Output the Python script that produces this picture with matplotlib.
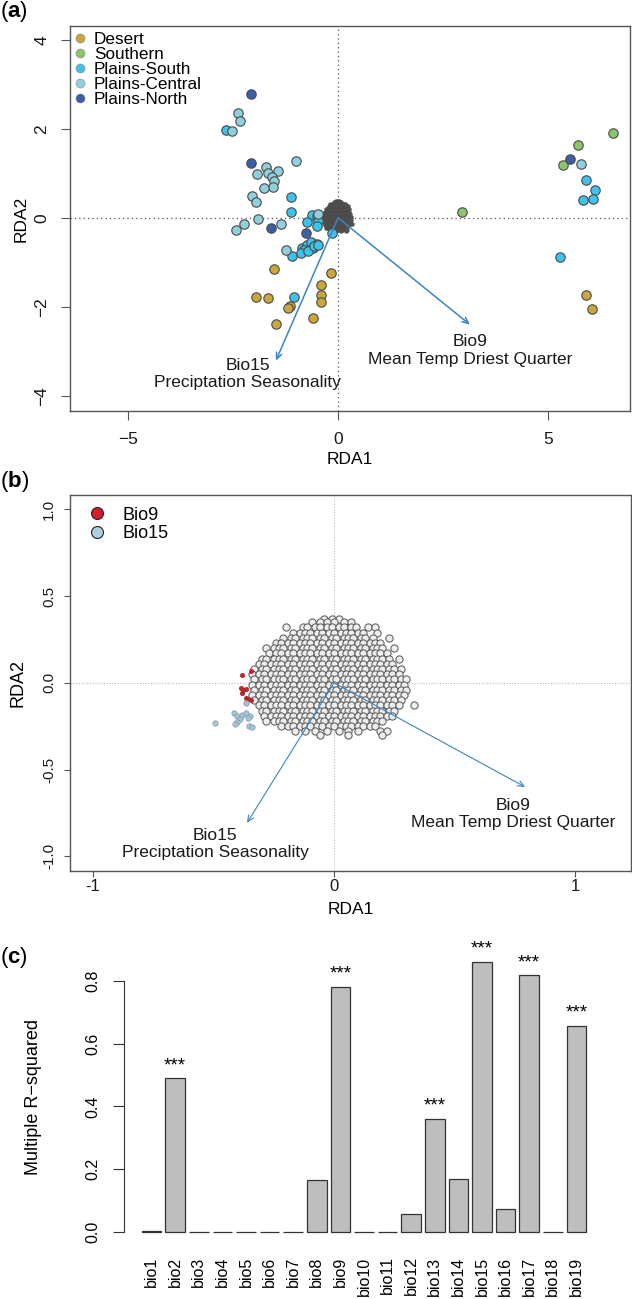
import matplotlib.pyplot as plt
from matplotlib.lines import Line2D

plt.rcParams['font.family'] = ['Liberation Sans', 'DejaVu Sans']
plt.rcParams['mathtext.fontset'] = 'custom'
plt.rcParams['mathtext.rm'] = 'Liberation Sans'
plt.rcParams['mathtext.bf'] = 'Liberation Sans:bold'

# ---- panel (a): site scores on RDA1/RDA2 ----
desert_x = [-1.52, -1.95, -1.66, -1.14, -1.20, -1.48, -0.17, -0.40, -0.40, -0.40, -0.59, 5.90, 6.04]
desert_y = [-1.15, -1.77, -1.80, -1.98, -2.03, -2.39, -1.24, -1.50, -1.74, -1.88, -2.26, -1.74, -2.04]
southern_x = [6.55, 5.71, 5.36, 2.96]
southern_y = [1.90, 1.63, 1.18, 0.13]
psouth_x = [-2.67, -1.12, -1.12, -0.61, -0.51, -0.47, -0.75, -0.49, -0.15, -1.10, -0.86, -0.75, -0.65,
            -0.51, -0.60, -0.81, -0.89, -0.71, -0.57, -0.47, -1.05, 5.91, 6.11, 5.82, 6.08, 5.29]
psouth_y = [1.97, 0.46, 0.13, 0.07, 0.04, -0.08, -0.10, -0.18, -0.34, -0.85, -0.68, -0.61, -0.55,
            -0.58, -0.67, -0.72, -0.78, -0.74, -0.64, -0.61, -1.78, 0.86, 0.63, 0.39, 0.42, -0.88]
pcentral_x = [-2.39, -2.33, -2.53, -1.01, -1.72, -1.92, -1.66, -1.42, -1.58, -1.52, -1.55, -1.76,
              -2.04, -1.96, -1.90, -2.25, -2.43, -1.35, -1.24, -0.48, 5.79]
pcentral_y = [2.35, 2.18, 1.96, 1.27, 1.15, 0.98, 1.00, 1.06, 0.91, 0.82, 0.69, 0.66,
              0.48, 0.35, -0.02, -0.13, -0.27, -0.13, -0.72, 0.09, 1.22]
pnorth_x = [-2.07, -2.07, -1.60, -0.77, 5.52]
pnorth_y = [2.78, 1.24, -0.23, -0.33, 1.32]

group_names = ['Desert', 'Southern', 'Plains-South', 'Plains-Central', 'Plains-North']
group_colors = ['#c9a73a', '#8cc66a', '#3cc3ec', '#8fd0dc', '#3b5ea8']

# biplot arrows (tips)
arrow_names = ['Bio15\nPreciptation Seasonality', 'Bio9\nMean Temp Driest Quarter']
arrow_a_x = [-1.48, 3.14]
arrow_a_y = [-3.21, -2.40]
arrow_b_x = [-0.361, 0.793]
arrow_b_y = [-0.807, -0.600]

# ---- SNP loadings (panel b scale), read row by row from the cloud ----
snp_row_y = [0.37, 0.35, 0.32, 0.29, 0.26, 0.23, 0.20, 0.17, 0.14, 0.11, 0.08, 0.05, 0.02,
             -0.01, -0.04, -0.07, -0.10, -0.13, -0.16, -0.19, -0.22, -0.25, -0.28, -0.30]
snp_row_x = [
    [-0.04, -0.01, 0.02],
    [-0.09, -0.06, -0.03, 0.00, 0.04, 0.07],
    [-0.20, -0.13, -0.11, -0.08, -0.06, -0.03, -0.01, 0.02, 0.04, 0.07, 0.09, 0.14, 0.17],
    [-0.17, -0.14, -0.12, -0.10, -0.07, -0.05, -0.02, 0.00, 0.03, 0.05, 0.07, 0.10, 0.12, 0.18],
    [-0.21, -0.18, -0.16, -0.13, -0.11, -0.09, -0.06, -0.04, -0.01, 0.01, 0.04, 0.06, 0.08, 0.11,
     0.13, 0.16, 0.23],
    [-0.24, -0.22, -0.19, -0.17, -0.14, -0.12, -0.10, -0.07, -0.05, -0.02, 0.00, 0.03, 0.05, 0.07,
     0.10, 0.12, 0.15, 0.17, 0.19],
    [-0.28, -0.25, -0.23, -0.21, -0.18, -0.16, -0.13, -0.11, -0.09, -0.06, -0.04, -0.01, 0.01, 0.04,
     0.06, 0.08, 0.11, 0.13, 0.16, 0.18, 0.20, 0.25],
    [-0.27, -0.24, -0.22, -0.19, -0.17, -0.14, -0.12, -0.10, -0.07, -0.05, -0.02, 0.00, 0.03, 0.05,
     0.07, 0.10, 0.12, 0.15, 0.17, 0.19, 0.22],
    [-0.30, -0.28, -0.25, -0.23, -0.21, -0.18, -0.16, -0.13, -0.11, -0.09, -0.06, -0.04, -0.01, 0.01,
     0.04, 0.06, 0.08, 0.11, 0.13, 0.16, 0.18, 0.20, 0.23, 0.27],
    [-0.31, -0.29, -0.26, -0.24, -0.22, -0.19, -0.17, -0.14, -0.12, -0.10, -0.07, -0.05, -0.02, 0.00,
     0.03, 0.05, 0.07, 0.10, 0.12, 0.15, 0.17, 0.19, 0.22, 0.24],
    [-0.33, -0.30, -0.28, -0.25, -0.23, -0.21, -0.18, -0.16, -0.13, -0.11, -0.09, -0.06, -0.04, -0.01,
     0.01, 0.04, 0.06, 0.08, 0.11, 0.13, 0.16, 0.18, 0.20, 0.23, 0.25, 0.28],
    [-0.34, -0.31, -0.29, -0.26, -0.24, -0.22, -0.19, -0.17, -0.14, -0.12, -0.10, -0.07, -0.05, -0.02,
     0.00, 0.03, 0.05, 0.07, 0.10, 0.12, 0.15, 0.17, 0.19, 0.22, 0.24, 0.27],
    [-0.33, -0.30, -0.28, -0.25, -0.23, -0.21, -0.18, -0.16, -0.13, -0.11, -0.09, -0.06, -0.04, -0.01,
     0.01, 0.04, 0.06, 0.08, 0.11, 0.13, 0.16, 0.18, 0.20, 0.23, 0.25, 0.28, 0.30],
    [-0.34, -0.31, -0.29, -0.26, -0.24, -0.22, -0.19, -0.17, -0.14, -0.12, -0.10, -0.07, -0.05, -0.02,
     0.00, 0.03, 0.05, 0.07, 0.10, 0.12, 0.15, 0.17, 0.19, 0.22, 0.24, 0.27, 0.29],
    [-0.33, -0.30, -0.28, -0.25, -0.23, -0.21, -0.18, -0.16, -0.13, -0.11, -0.09, -0.06, -0.04, -0.01,
     0.01, 0.04, 0.06, 0.08, 0.11, 0.13, 0.16, 0.18, 0.20, 0.23, 0.25, 0.28, 0.30],
    [-0.34, -0.31, -0.29, -0.26, -0.24, -0.22, -0.19, -0.17, -0.14, -0.12, -0.10, -0.07, -0.05, -0.02,
     0.00, 0.03, 0.05, 0.07, 0.10, 0.12, 0.15, 0.17, 0.19, 0.22, 0.24, 0.27, 0.29],
    [-0.33, -0.30, -0.28, -0.25, -0.23, -0.21, -0.18, -0.16, -0.13, -0.11, -0.09, -0.06, -0.04, -0.01,
     0.01, 0.04, 0.06, 0.08, 0.11, 0.13, 0.16, 0.18, 0.20, 0.23, 0.25, 0.28],
    [-0.31, -0.29, -0.26, -0.24, -0.22, -0.19, -0.17, -0.14, -0.12, -0.10, -0.07, -0.05, -0.02, 0.00,
     0.03, 0.05, 0.07, 0.10, 0.12, 0.15, 0.17, 0.19, 0.22, 0.24, 0.27, 0.33],
    [-0.30, -0.28, -0.25, -0.23, -0.21, -0.18, -0.16, -0.13, -0.11, -0.09, -0.06, -0.04, -0.01, 0.01,
     0.04, 0.06, 0.08, 0.11, 0.13, 0.16, 0.18, 0.20, 0.23, 0.25],
    [-0.29, -0.26, -0.24, -0.22, -0.19, -0.17, -0.14, -0.12, -0.10, -0.07, -0.05, -0.02, 0.00, 0.03,
     0.05, 0.07, 0.10, 0.12, 0.15, 0.17, 0.19, 0.22, 0.24],
    [-0.28, -0.25, -0.23, -0.21, -0.18, -0.16, -0.13, -0.11, -0.09, -0.06, -0.04, -0.01, 0.01, 0.04,
     0.06, 0.08, 0.11, 0.13, 0.16, 0.18, 0.20],
    [-0.22, -0.19, -0.17, -0.14, -0.12, -0.10, -0.07, -0.05, -0.02, 0.00, 0.03, 0.05, 0.07, 0.10,
     0.12, 0.15, 0.17],
    [-0.16, -0.12, -0.08, -0.03, 0.02, 0.06, 0.10, 0.19, 0.22],
    [-0.06, 0.06, 0.20],
]

# candidate SNPs (panel b)
bio9_x = [-0.382, -0.343, -0.386, -0.376, -0.365, -0.383, -0.365, -0.346, -0.356]
bio9_y = [0.047, 0.071, -0.031, -0.040, -0.036, -0.056, -0.088, -0.096, -0.092]
bio15_x = [-0.494, -0.415, -0.401, -0.383, -0.365, -0.349, -0.356, -0.390, -0.401, -0.411,
           -0.351, -0.341, -0.366]
bio15_y = [-0.232, -0.175, -0.190, -0.184, -0.175, -0.190, -0.203, -0.209, -0.223, -0.236,
           -0.248, -0.255, -0.117]

# ---- panel (c) ----
bio_names = ['bio%d' % i for i in range(1, 20)]
r_squared = [0.003, 0.49, 0, 0, 0, 0, 0, 0.165, 0.783, 0, 0, 0.055, 0.36, 0.167, 0.862,
             0.073, 0.819, 0, 0.657]
signif = ['', '***', '', '', '', '', '', '', '***', '', '', '', '***', '', '***', '', '***', '', '***']

snp_x = [x for xs in snp_row_x for x in xs]
snp_y = [y for y, xs in zip(snp_row_y, snp_row_x) for _ in xs]

W, H = 632, 1299
def box(l, t, r, b):
    return [l / W, 1 - b / H, (r - l) / W, (b - t) / H]

ARROW = '#3a86c4'
FRAME = '#555555'
fig = plt.figure(figsize=(W / 100, H / 100), dpi=100)

def style_frame(ax, tick_len):
    for sp in ax.spines.values():
        sp.set_color(FRAME)
        sp.set_linewidth(1.0)
    ax.tick_params(direction='out', length=tick_len, width=0.8, color=FRAME, labelcolor='#1a1a1a')

def add_arrows(ax, xs, ys, offsets, lw):
    for name, tx, ty, off in zip(arrow_names, xs, ys, offsets):
        ax.annotate('', xy=(tx, ty), xytext=(0, 0),
                    arrowprops=dict(arrowstyle='->,head_length=0.45,head_width=0.2', color=ARROW,
                                    lw=lw, shrinkA=0, shrinkB=0), zorder=5)
        ax.annotate(name, xy=(tx, ty), xytext=off, textcoords='offset pixels',
                    ha='center', va='center', fontsize=12.5, color='#1a1a1a', zorder=6)

# ---------------- (a) ----------------
ax = fig.add_axes(box(70, 26, 630, 411))
ax.axhline(0, color=FRAME, ls=(0, (1, 2.5)), lw=0.9, zorder=1)
ax.axvline(0, color=FRAME, ls=(0, (1, 2.5)), lw=0.9, zorder=1)
ax.scatter(snp_x, snp_y, s=8, c='#555555', edgecolors='#4a4a4a', linewidths=0.3, zorder=2)
groups = [(desert_x, desert_y), (southern_x, southern_y), (psouth_x, psouth_y),
          (pcentral_x, pcentral_y), (pnorth_x, pnorth_y)]
for (gx, gy), col in zip(groups, group_colors):
    ax.scatter(gx, gy, s=46, c=col, edgecolors='#4a4a4a', linewidths=0.8, zorder=3)
add_arrows(ax, arrow_a_x, arrow_a_y, [(-28, -13), (0, -26)], 1.1)
ax.set_xlim(-6.38, 6.95)
ax.set_ylim(-4.34, 4.31)
ax.set_xticks([-5, 0, 5])
ax.set_yticks([-4, -2, 0, 2, 4])
ax.set_yticklabels(['\u22124', '\u22122', '0', '2', '4'], rotation=90, va='center')
ax.set_xticklabels(['\u22125', '0', '5'])
style_frame(ax, 6.5)
ax.tick_params(labelsize=12.5, pad=8.5)
ax.set_xlabel('RDA1', fontsize=12.5)
ax.set_ylabel('RDA2', fontsize=12.5)
ax.xaxis.set_label_coords(0.5, -0.106)
ax.yaxis.set_label_coords(-0.073, 0.5)
handles = [Line2D([], [], ls='', marker='o', ms=6.5, mfc=c, mec='#888888', mew=0.4) for c in group_colors]
ax.legend(handles, group_names, loc='upper left', bbox_to_anchor=(0.0057, 0.984), frameon=False,
          fontsize=12.3, handlelength=0.8, handletextpad=0.42, labelspacing=0.0,
          borderpad=0, borderaxespad=0)

# ---------------- (b) ----------------
ax = fig.add_axes(box(70, 495, 631, 871))
ax.axhline(0, color='#bbbbbb', ls=(0, (1, 1.5)), lw=0.8, zorder=1)
ax.axvline(0, color='#bbbbbb', ls=(0, (1, 1.5)), lw=0.8, zorder=1)
ax.scatter(snp_x, snp_y, s=27, c='#eeeeee', edgecolors='#5e5e5e', linewidths=0.75, zorder=2)
ax.scatter(bio9_x, bio9_y, s=11, c='#c0272d', edgecolors='#9e1b20', linewidths=0.3, zorder=3)
ax.scatter(bio15_x, bio15_y, s=15, c='#a7c4d4', edgecolors='#7d9aab', linewidths=0.5, zorder=3)
add_arrows(ax, arrow_b_x, arrow_b_y, [(-32, -21), (-12, -27)], 0.8)
ax.set_xlim(-1.095, 1.232)
ax.set_ylim(-1.084, 1.083)
ax.set_xticks([-1, 0, 1])
ax.set_xticklabels(['-1', '0', '1'])
ax.set_yticks([-1, -0.5, 0, 0.5, 1])
ax.set_yticklabels(['-1.0', '-0.5', '0.0', '0.5', '1.0'], rotation=90, va='center')
style_frame(ax, 4)
ax.tick_params(axis='x', labelsize=12, pad=1.5)
ax.tick_params(axis='y', labelsize=11, pad=6)
ax.set_xlabel('RDA1', fontsize=12.5)
ax.set_ylabel('RDA2', fontsize=13)
ax.xaxis.set_label_coords(0.5, -0.082)
ax.yaxis.set_label_coords(-0.077, 0.5)
handles = [Line2D([], [], ls='', marker='o', ms=8.6, mfc='#d1202a', mec='#222222', mew=0.8),
           Line2D([], [], ls='', marker='o', ms=8.6, mfc='#a9cfe3', mec='#222222', mew=0.8)]
ax.legend(handles, ['Bio9', 'Bio15'], loc='upper left', bbox_to_anchor=(0.032, 0.969), frameon=False,
          fontsize=13, handlelength=1.0, handletextpad=0.94, labelspacing=0.07,
          borderpad=0, borderaxespad=0)

# ---------------- (c) ----------------
ax = fig.add_axes(box(124, 951, 604, 1242.5))
pos = [0.7 + 1.2 * i for i in range(len(bio_names))]
ax.bar(pos, r_squared, width=1.0, color='#bebebe', edgecolor='#333333', linewidth=0.9)
for p, v, s in zip(pos, r_squared, signif):
    if s:
        ax.text(p, v + 0.04, s, ha='center', va='center', fontsize=13.5, clip_on=False)
ax.set_xlim(-0.704, 23.704)
ax.set_ylim(-0.0345, 0.8965)
for side in ['top', 'right', 'bottom']:
    ax.spines[side].set_visible(False)
ax.spines['left'].set_bounds(0, 0.8)
ax.spines['left'].set_color('#333333')
ax.set_xticks(pos)
ax.set_xticklabels(bio_names, rotation=90, fontsize=11.5, va='top')
ax.tick_params(axis='x', length=0, pad=10)
ax.set_yticks([0, 0.2, 0.4, 0.6, 0.8])
ax.set_yticklabels(['0.0', '0.2', '0.4', '0.6', '0.8'], rotation=90, va='center')
ax.tick_params(axis='y', length=8, width=0.8, color='#333333', labelsize=11.5, pad=9)
ax.set_ylabel('Multiple R\u2212squared', fontsize=13)
ax.yaxis.set_label_coords(-0.17, 0.5)

# panel letters
for letter, ypx in [('a', 12), ('b', 482), ('c', 958)]:
    fig.text(0.0, 1 - ypx / H, r'($\mathbf{%s}$)' % letter, fontsize=16, ha='left', va='center')

fig.savefig('out.png', dpi=100)
